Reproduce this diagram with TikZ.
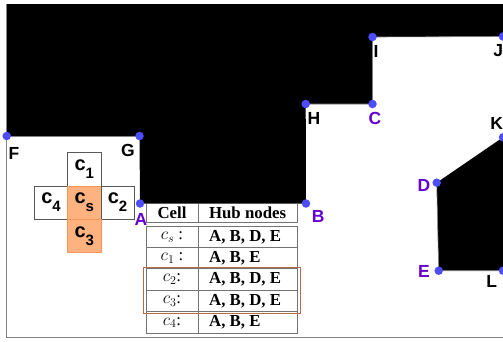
\documentclass[tikz,border=0pt]{standalone}
\usepackage{fontspec}
\setmainfont{Liberation Serif}
\setsansfont{Liberation Sans}
\definecolor{ptblue}{RGB}{77,77,255}
\definecolor{lblpurple}{RGB}{102,0,204}
\definecolor{cellorange}{RGB}{253,178,128}
\definecolor{cellorangeedge}{RGB}{246,150,90}
\definecolor{boxbrown}{RGB}{190,105,70}
\definecolor{framegray}{RGB}{130,130,130}
\tikzset{
  pt/.style={circle, fill=ptblue, inner sep=0pt, minimum size=8.5pt},
  lbl/.style={font=\sffamily\bfseries\fontsize{17.5}{17.5}\selectfont, inner sep=0pt, text=black},
  plbl/.style={lbl, text=lblpurple},
  cellbox/.style={draw=black!65, line width=0.8pt, minimum width=33.3pt, minimum height=33.3pt, inner sep=0pt, font=\sffamily\bfseries},
  hot/.style={cellbox, fill=cellorange, draw=cellorangeedge},
  tline/.style={draw=black!55, line width=0.7pt},
  ttext/.style={inner sep=0pt, font=\fontsize{16.8}{16.8}\selectfont},
  edge/.style={draw=framegray, line width=0.6pt}
}
\newcommand{\cellname}[1]{{\fontsize{20}{20}\selectfont c}{\fontsize{15}{15}\selectfont\raisebox{-8pt}{#1}}}
\begin{document}
\begin{tikzpicture}[x=1pt,y=-1pt]
\useasboundingbox[fill=white] (0,0) rectangle (503,341);
% coordinates
\coordinate (TL) at (6.7,4);
\coordinate (TR) at (503,4);
\coordinate (J) at (503,36.5);
\coordinate (I) at (372.5,37);
\coordinate (C) at (372.5,104);
\coordinate (H) at (305.7,104);
\coordinate (B) at (306,203.5);
\coordinate (A) at (140,203.5);
\coordinate (G) at (139.5,136);
\coordinate (F) at (6.7,136);
\coordinate (D) at (436.7,182.7);
\coordinate (K) at (503,137.3);
\coordinate (L) at (503,270.7);
\coordinate (E) at (438.7,270.7);
\coordinate (BL) at (6.7,337);
\coordinate (BR) at (503,337);
% black regions
\fill[black] (TL) -- (TR) -- (J) -- (I) -- (C) -- (H) -- (B) -- (A) -- (G) -- (F) -- cycle;
\fill[black] (D) -- (K) -- (L) -- (E) -- cycle;
% frame and edges
\draw[edge] (TL) -- (BL) -- (BR);
\draw[edge] (J) -- (I) -- (C) -- (H);
\draw[edge] (G) -- (F);
\draw[edge] (D) -- (E) -- (L);
% cells
\node[cellbox] (c1) at (84.3,169.3) {\cellname{1}};
\node[cellbox] (c4) at (51,202.6) {\cellname{4}};
\node[hot] (cs) at (84.3,202.6) {\cellname{s}};
\node[cellbox] (c2) at (117.6,202.6) {\cellname{2}};
\node[hot] (c3) at (84.3,235.9) {\cellname{3}};
% table
\draw[tline] (146,203.5) -- (146,222.3) -- (297,222.3) -- (297,203.5);
\draw[tline] (198.3,203.5) -- (198.3,222.3);
\draw[tline] (146,226.7) rectangle (297,333.3);
\draw[tline] (198.3,226.7) -- (198.3,333.3);
\foreach \yy in {247.3,268.5,290,311.7} \draw[tline] (146,\yy) -- (297,\yy);
\node[ttext] (h1) at (172,213) {\textbf{Cell}};
\node[ttext] (h2) at (247.6,213) {\textbf{Hub nodes}};
\node[ttext] (r1a) at (172,237) {$c_s$ :};
\node[ttext] (r2a) at (172,257.8) {$c_1$ :};
\node[ttext] (r3a) at (172,279.2) {$c_2$:};
\node[ttext] (r4a) at (172,300.8) {$c_3$:};
\node[ttext] (r5a) at (172,322.5) {$c_4$:};
\node[ttext, anchor=west] (r1b) at (209,237) {\textbf{A, B, D, E}};
\node[ttext, anchor=west] (r2b) at (209,257.8) {\textbf{A, B, E}};
\node[ttext, anchor=west] (r3b) at (209,279.2) {\textbf{A, B, D, E}};
\node[ttext, anchor=west] (r4b) at (209,300.8) {\textbf{A, B, D, E}};
\node[ttext, anchor=west] (r5b) at (209,322.5) {\textbf{A, B, E}};
\draw[draw=boxbrown, line width=0.9pt] (143.3,267.7) rectangle (300.7,313.3);
% points
\foreach \p in {F,G,A,B,H,C,I,J,K,D,E,L} \node[pt] (p\p) at (\p) {};
% labels
\node[lbl] (lF) at (14,153) {F};
\node[lbl] (lG) at (128,150) {G};
\node[plbl] (lA) at (141,219) {A};
\node[plbl] (lB) at (318.3,216.5) {B};
\node[lbl] (lH) at (314,118.3) {H};
\node[plbl] (lC) at (375,118.3) {C};
\node[lbl] (lI) at (376,51) {I};
\node[lbl] (lJ) at (498.3,50.5) {J};
\node[lbl] (lK) at (496.7,123) {K};
\node[plbl] (lD) at (424,185) {D};
\node[plbl] (lE) at (424,271) {E};
\node[lbl] (lL) at (491.7,281.7) {L};
\end{tikzpicture}
\end{document}
